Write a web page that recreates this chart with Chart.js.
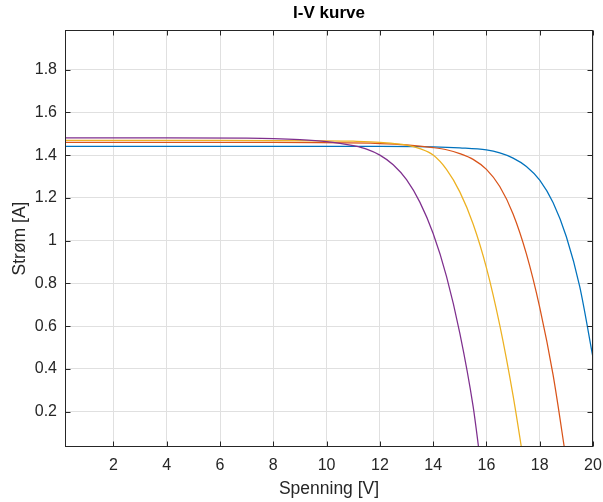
<!DOCTYPE html>
<html lang="no">
  <head>
    <meta charset="UTF-8" />
    <title>I-V kurve</title>
    <style>
      body { margin: 0; background: #fff; }
    </style>
  </head>
  <body>
    <canvas id="ivChart" width="603" height="502"></canvas>

    <script src="https://cdn.jsdelivr.net/npm/chart.js@4.4.1/dist/chart.umd.min.js"></script>
    <script>
      // values (spenning V, strøm A)
      var blueV = [0, 12, 14, 15, 16, 16.5, 17, 17.5, 18, 18.5, 19, 19.5, 20];
      var blueI = [1.441, 1.441, 1.439, 1.434, 1.424, 1.41, 1.386, 1.347, 1.283, 1.178, 1.018, 0.786, 0.453];

      var orangeV = [0, 8, 12, 13, 14, 14.5, 15, 15.5, 16, 16.5, 17, 17.5, 18, 18.5, 19];
      var orangeI = [1.459, 1.459, 1.454, 1.448, 1.435, 1.425, 1.407, 1.38, 1.333, 1.253, 1.125, 0.938, 0.688, 0.373, -0.03];

      var yellowV = [0, 6, 10, 11, 12, 13, 13.5, 14, 14.5, 15, 15.5, 16, 16.5, 17, 17.5];
      var yellowI = [1.469, 1.469, 1.467, 1.465, 1.46, 1.447, 1.43, 1.4, 1.333, 1.228, 1.078, 0.873, 0.605, 0.275, -0.117];

      var purpleV = [0, 4, 7, 8, 9, 10, 10.5, 11, 11.5, 12, 12.5, 13, 13.5, 14, 14.5, 15, 15.5, 15.75];
      var purpleI = [1.48, 1.48, 1.479, 1.477, 1.472, 1.463, 1.455, 1.444, 1.428, 1.4, 1.355, 1.285, 1.18, 1.033, 0.833, 0.568, 0.225, -0.01];

      var xTicks = [2, 4, 6, 8, 10, 12, 14, 16, 18, 20];
      var yTicks = [0.2, 0.4, 0.6, 0.8, 1, 1.2, 1.4, 1.6, 1.8];

      var font = "'Liberation Sans', Arial, Helvetica, sans-serif";
      var axisColor = "#262626";

      function points(xs, ys) {
        var out = [];
        for (let i = 0; i < xs.length; i++) {
          out.push({ x: xs[i], y: ys[i] });
        }
        return out;
      }

      function curve(xs, ys, color) {
        return {
          data: points(xs, ys),
          borderColor: color,
          borderWidth: 1.25,
          pointRadius: 0,
          cubicInterpolationMode: "monotone",
          clip: 0,
        };
      }

      // box round the plot and small ticks pointing inwards, like matlab
      var frame = {
        id: "frame",
        afterDraw: function (chart) {
          var ctx = chart.ctx;
          var a = chart.chartArea;
          var l = Math.round(a.left) + 0.5;
          var r = Math.round(a.right) - 0.5;
          var t = Math.round(a.top) + 0.5;
          var b = Math.round(a.bottom) - 0.5;
          ctx.save();
          ctx.strokeStyle = axisColor;
          ctx.lineWidth = 1;
          ctx.beginPath();
          xTicks.forEach(function (v) {
            var px = Math.round(chart.scales.x.getPixelForValue(v)) + 0.5;
            ctx.moveTo(px, b);
            ctx.lineTo(px, b - 5);
            ctx.moveTo(px, t);
            ctx.lineTo(px, t + 5);
          });
          yTicks.forEach(function (v) {
            var py = Math.round(chart.scales.y.getPixelForValue(v)) + 0.5;
            ctx.moveTo(l, py);
            ctx.lineTo(l + 5, py);
            ctx.moveTo(r, py);
            ctx.lineTo(r - 5, py);
          });
          ctx.stroke();
          ctx.strokeRect(l, t, r - l, b - t);
          ctx.restore();
        },
      };

      function setTicks(list) {
        return function (scale) {
          scale.ticks = list.map(function (v) {
            return { value: v };
          });
        };
      }

      function label(v) {
        return String(+v.toFixed(1));
      }

      var ctx = document.getElementById("ivChart").getContext("2d");
      var ivChart = new Chart(ctx, {
        type: "line",
        data: {
          datasets: [
            curve(purpleV, purpleI, "#7E2F8E"),
            curve(yellowV, yellowI, "#EDB120"),
            curve(orangeV, orangeI, "#D95319"),
            curve(blueV, blueI, "#0072BD"),
          ],
        },
        options: {
          responsive: false,
          animation: false,
          layout: { padding: { right: 10 } },
          plugins: {
            legend: { display: false },
            tooltip: { enabled: false },
            title: {
              display: true,
              text: "I-V kurve",
              fullSize: false,
              color: "#000",
              font: { family: font, size: 17, weight: "bold", lineHeight: "20px" },
              padding: { top: 3, bottom: 7 },
            },
          },
          scales: {
            x: {
              type: "linear",
              min: 0.18,
              max: 20,
              afterBuildTicks: setTicks(xTicks),
              afterFit: function (scale) {
                scale.height = 55;
                scale.paddingLeft = 0;
                scale.paddingRight = 0;
              },
              grid: { color: "#e0e0e0", drawTicks: false },
              border: { display: false },
              ticks: {
                color: axisColor,
                padding: 9,
                maxRotation: 0,
                callback: label,
                font: { family: font, size: 16 },
              },
              title: {
                display: true,
                text: "Spenning [V]",
                color: axisColor,
                font: { family: font, size: 17.5 },
                padding: { top: 0, bottom: 2 },
              },
            },
            y: {
              type: "linear",
              min: 0.035,
              max: 1.985,
              afterBuildTicks: setTicks(yTicks),
              afterFit: function (scale) {
                scale.width = 65;
              },
              grid: { color: "#e0e0e0", drawTicks: false },
              border: { display: false },
              ticks: {
                color: axisColor,
                padding: 8,
                callback: label,
                font: { family: font, size: 16 },
              },
              title: {
                display: true,
                text: "Strøm [A]",
                color: axisColor,
                font: { family: font, size: 17.5 },
                padding: { top: 10, bottom: 0 },
              },
            },
          },
        },
        plugins: [frame],
      });
    </script>
  </body>
</html>
